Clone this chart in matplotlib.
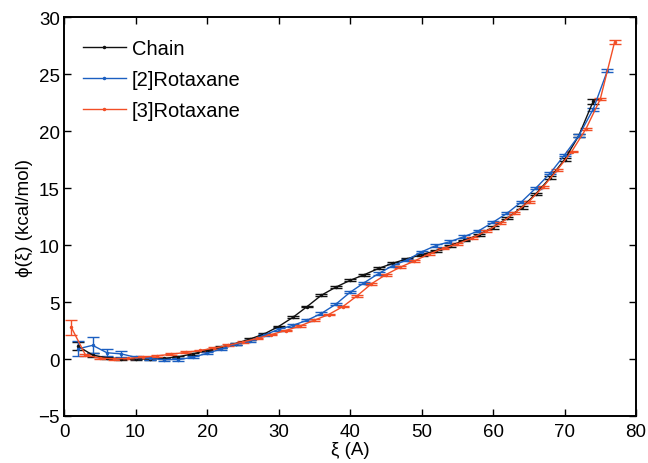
import numpy as np
import matplotlib
matplotlib.use("Agg")
import matplotlib.pyplot as plt
from matplotlib.lines import Line2D

plt.rcParams["font.family"] = ["Liberation Sans", "DejaVu Sans"]

# PMF profiles, xi in Angstrom, phi in kcal/mol
xi_chain = [2, 4, 6, 8, 10, 12, 14, 16, 18, 20, 22, 24, 26, 28, 30, 32, 34, 36,
            38, 40, 42, 44, 46, 48, 50, 52, 54, 56, 58, 60, 62, 64, 66, 68, 70,
            72, 74]
phi_chain = [1.1, 0.35, 0.1, 0.02, 0.0, 0.0, 0.05, 0.2, 0.45, 0.75, 1.05, 1.35,
             1.75, 2.2, 2.85, 3.65, 4.6, 5.6, 6.3, 6.9, 7.4, 7.95, 8.4, 8.8,
             9.15, 9.5, 9.95, 10.4, 10.9, 11.55, 12.35, 13.3, 14.5, 15.9, 17.5,
             19.6, 22.6]
err_chain = [0.35, 0.15, 0.1, 0.08, 0.08, 0.08, 0.08, 0.08, 0.08, 0.08, 0.08,
             0.08, 0.08, 0.08, 0.08, 0.08, 0.08, 0.08, 0.08, 0.08, 0.08, 0.08,
             0.08, 0.08, 0.08, 0.08, 0.08, 0.08, 0.1, 0.1, 0.1, 0.1, 0.1, 0.12,
             0.12, 0.15, 0.2]

xi_rot2 = [2, 4, 6, 8, 10, 12, 14, 16, 18, 20, 22, 24, 26, 28, 30, 32, 34, 36,
           38, 40, 42, 44, 46, 48, 50, 52, 54, 56, 58, 60, 62, 64, 66, 68, 70,
           72, 74, 76]
phi_rot2 = [0.9, 1.2, 0.55, 0.45, 0.15, 0.05, -0.05, -0.05, 0.15, 0.5, 0.88,
            1.3, 1.6, 2.1, 2.6, 2.95, 3.4, 4.0, 4.8, 5.85, 6.7, 7.5, 8.2, 8.7,
            9.4, 9.95, 10.3, 10.75, 11.25, 12.0, 12.8, 13.8, 15.0, 16.3, 17.9,
            19.6, 21.9, 25.3]
err_rot2 = [0.65, 0.7, 0.3, 0.25, 0.15, 0.1, 0.1, 0.1, 0.1, 0.1, 0.1, 0.1, 0.1,
            0.1, 0.1, 0.1, 0.1, 0.1, 0.1, 0.1, 0.1, 0.1, 0.1, 0.1, 0.1, 0.1,
            0.1, 0.1, 0.1, 0.1, 0.1, 0.1, 0.1, 0.1, 0.1, 0.1, 0.12, 0.12]

xi_rot3 = [1, 3, 5, 7, 9, 11, 13, 15, 17, 19, 21, 23, 25, 27, 29, 31, 33, 35,
           37, 39, 41, 43, 45, 47, 49, 51, 53, 55, 57, 59, 61, 63, 65, 67, 69,
           71, 73, 75, 77]
phi_rot3 = [2.8, 0.35, 0.08, 0.02, 0.05, 0.15, 0.28, 0.42, 0.58, 0.75, 0.95,
            1.2, 1.5, 1.8, 2.15, 2.5, 2.9, 3.4, 3.9, 4.6, 5.55, 6.6, 7.4, 8.05,
            8.6, 9.2, 9.7, 10.1, 10.6, 11.2, 11.9, 12.8, 13.8, 15.1, 16.6, 18.2,
            20.2, 22.8, 27.8]
err_rot3 = [0.65, 0.1, 0.08, 0.08, 0.08, 0.08, 0.08, 0.08, 0.08, 0.08, 0.08,
            0.08, 0.08, 0.08, 0.08, 0.08, 0.08, 0.08, 0.08, 0.08, 0.08, 0.08,
            0.08, 0.08, 0.08, 0.08, 0.08, 0.08, 0.08, 0.08, 0.08, 0.08, 0.08,
            0.08, 0.08, 0.08, 0.1, 0.1, 0.2]

series = [
    ("Chain", xi_chain, phi_chain, err_chain, "#111111"),
    ("[2]Rotaxane", xi_rot2, phi_rot2, err_rot2, "#1b5fc1"),
    ("[3]Rotaxane", xi_rot3, phi_rot3, err_rot3, "#f24e26"),
]

fig = plt.figure(figsize=(6.48, 4.64), dpi=100)
ax = fig.add_axes([0.0988, 0.1013, 0.8827, 0.8597])

handles = []
for label, x, y, e, col in series:
    ax.errorbar(x, y, yerr=e, color=col, ecolor=col, lw=1.0, elinewidth=1.0,
                capsize=4, capthick=1.0, marker=".", markersize=3)
    handles.append(Line2D([], [], color=col, lw=1.0, marker=".",
                          markersize=3, label=label))

ax.set_xlim(0, 80)
ax.set_ylim(-5, 30)
ax.set_xticks(np.arange(0, 81, 10))
ax.set_yticks(np.arange(-5, 31, 5))
ax.tick_params(direction="in", length=5, width=1, top=True, right=True,
               labelsize=13.5)
ax.tick_params(axis="x", pad=5)
ax.tick_params(axis="y", pad=3)
ax.set_yticklabels(["\u22125" if v < 0 else str(v) for v in range(-5, 31, 5)])
for s in ax.spines.values():
    s.set_linewidth(1.4)

ax.set_xlabel("ξ (A)", fontsize=13.5, labelpad=1)
ax.set_ylabel("ϕ(ξ) (kcal/mol)", fontsize=13.5, labelpad=4)

ax.legend(handles=handles, loc="upper left", bbox_to_anchor=(0.002, 0.99),
          frameon=False, fontsize=14.5, handlelength=2.1, handletextpad=0.3,
          labelspacing=0.6)

fig.savefig("out.png", dpi=100)
